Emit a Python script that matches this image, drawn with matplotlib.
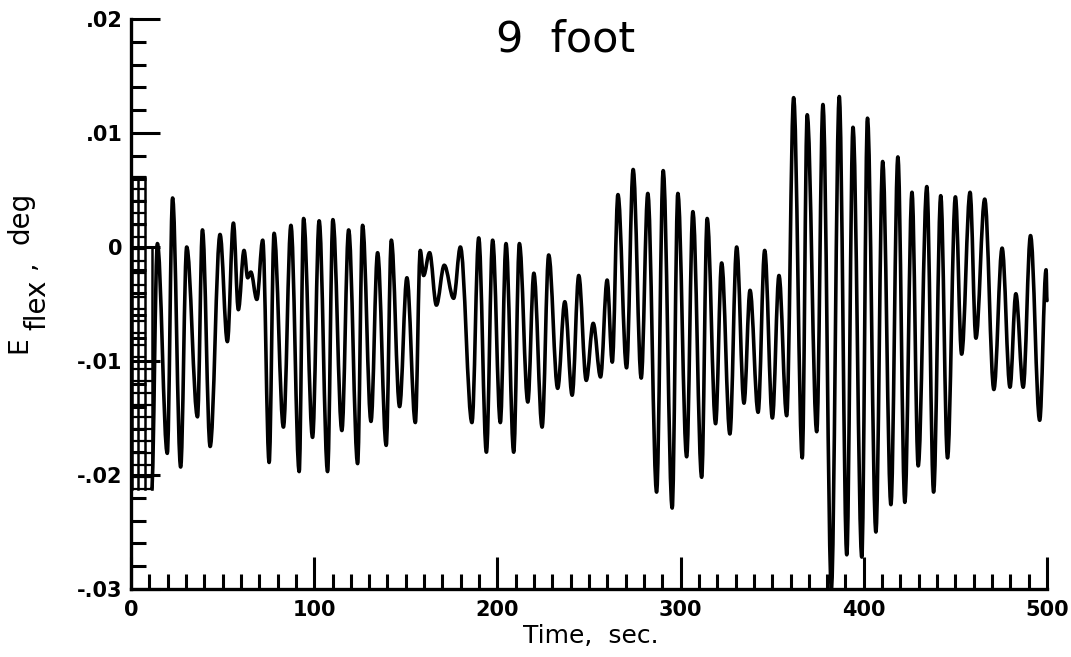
import matplotlib
matplotlib.use("Agg")
import matplotlib.pyplot as plt
from matplotlib.path import Path
from matplotlib.patches import PathPatch
from matplotlib.ticker import MultipleLocator, FixedLocator, FixedFormatter

# ---- data (time in s, E_flex in deg): successive extrema ----
time_s = [11.3, 14.4, 19.8, 22.7, 27.1, 30.4, 36.3, 39.0, 43.2, 48.6,
          52.6, 55.9, 58.6, 61.7, 63.7, 65.4, 68.7, 71.9, 75.4, 78.1,
          83.2, 87.3, 91.8, 94.2, 99.1, 102.7, 107.3, 110.2, 115.1, 118.8,
          123.7, 126.4, 131.0, 134.6, 139.3, 142.1, 146.6, 150.6, 155.2, 157.9,
          159.7, 163.0, 166.7, 171.0, 176.1, 179.8, 186.1, 189.8, 194.0, 197.4,
          201.6, 204.7, 208.9, 212.0, 216.6, 219.9, 224.4, 228.0, 232.9, 236.8,
          240.8, 244.4, 248.5, 252.3, 256.3, 259.9, 262.7, 265.8, 270.5, 274.1,
          278.5, 282.1, 286.9, 290.5, 295.4, 298.5, 303.3, 306.7, 311.5, 314.5,
          319.1, 322.4, 326.9, 330.6, 334.6, 337.9, 342.3, 345.9, 350.1, 353.7,
          357.9, 361.7, 366.4, 369.1, 374.3, 377.7, 382.3, 386.6, 390.7, 394.1,
          398.9, 402.0, 406.6, 410.3, 414.8, 418.6, 422.4, 426.3, 429.7, 434.4,
          438.1, 442.0, 445.7, 450.0, 453.4, 458.0, 461.2, 466.0, 471.0, 475.5,
          479.8, 483.0, 487.0, 491.0, 496.0, 499.5, 500.0]
e_flex = [-0.0212, 0.0003, -0.0181, 0.0043, -0.0193, 0.0000, -0.0149, 0.0015, -0.0175, 0.0011,
          -0.0083, 0.0021, -0.0055, -0.0003, -0.0027, -0.0022, -0.0046, 0.0006, -0.0189, 0.0012,
          -0.0158, 0.0019, -0.0197, 0.0025, -0.0167, 0.0023, -0.0197, 0.0024, -0.0161, 0.0015,
          -0.0190, 0.0019, -0.0153, -0.0005, -0.0174, 0.0006, -0.0140, -0.0027, -0.0154, -0.0003,
          -0.0025, -0.0005, -0.0051, -0.0016, -0.0045, 0.0000, -0.0154, 0.0008, -0.0180, 0.0006,
          -0.0154, 0.0003, -0.0180, 0.0003, -0.0136, -0.0023, -0.0158, -0.0007, -0.0124, -0.0048,
          -0.0130, -0.0025, -0.0117, -0.0067, -0.0114, -0.0029, -0.0101, 0.0046, -0.0106, 0.0068,
          -0.0115, 0.0047, -0.0215, 0.0067, -0.0229, 0.0047, -0.0184, 0.0031, -0.0202, 0.0025,
          -0.0155, -0.0014, -0.0164, 0.0000, -0.0137, -0.0038, -0.0145, -0.0003, -0.0150, -0.0025,
          -0.0148, 0.0131, -0.0185, 0.0116, -0.0162, 0.0125, -0.0300, 0.0132, -0.0270, 0.0105,
          -0.0272, 0.0113, -0.0250, 0.0075, -0.0226, 0.0079, -0.0224, 0.0048, -0.0192, 0.0053,
          -0.0215, 0.0045, -0.0185, 0.0044, -0.0094, 0.0048, -0.0080, 0.0042, -0.0125, -0.0001,
          -0.0123, -0.0041, -0.0123, 0.0010, -0.0152, -0.0020, -0.0047]

# plotter start-up "ladder" trace near t = 0
ladder_cols = [0.4, 4.0, 7.7]
ladder_top, ladder_bottom, ladder_step = 0.0061, -0.0212, 0.00105
ladder_col2 = [7.7, 11.3]
ladder_col2_top = -0.0105
ladder_right_top = 0.0

x_major = [0, 100, 200, 300, 400, 500]
y_major = [-0.03, -0.02, -0.01, 0.0, 0.01, 0.02]
y_labels = ["-.03", "-.02", "-.01", "0", ".01", ".02"]

W, H = 1071, 657
fig = plt.figure(figsize=(W / 100, H / 100), dpi=100)
ax = fig.add_axes([131 / W, 1 - 589 / H, (1047 - 131) / W, (589 - 19) / H])

# smooth trace: cubic Bezier segments with flat tangents at each extremum
k = 0.36
verts = [(time_s[0], e_flex[0])]
codes = [Path.MOVETO]
for i in range(1, len(time_s)):
    t0, v0 = time_s[i - 1], e_flex[i - 1]
    t1, v1 = time_s[i], e_flex[i]
    dt = t1 - t0
    verts += [(t0 + k * dt, v0), (t1 - k * dt, v1), (t1, v1)]
    codes += [Path.CURVE4] * 3
trace = PathPatch(Path(verts, codes), facecolor="none", edgecolor="black",
                  lw=2.6, joinstyle="round", capstyle="round", clip_on=False)
ax.add_patch(trace)

# ladder artifact
for c in ladder_cols:
    ax.plot([c, c], [ladder_top, ladder_bottom], color="black", lw=1.8, clip_on=False)
ax.plot([ladder_col2[1]] * 2, [ladder_right_top, ladder_bottom], color="black", lw=1.8)
lev = ladder_top
while lev >= ladder_bottom - 1e-9:
    ax.plot([ladder_cols[0], ladder_cols[-1]], [lev, lev], color="black", lw=1.6)
    if lev <= ladder_col2_top:
        ax.plot(ladder_col2, [lev, lev], color="black", lw=1.6)
    lev -= ladder_step

ax.set_xlim(0, 500)
ax.set_ylim(-0.03, 0.02)

for s in ["top", "right"]:
    ax.spines[s].set_visible(False)
for s in ["left", "bottom"]:
    ax.spines[s].set_linewidth(2.4)

ax.xaxis.set_major_locator(FixedLocator(x_major))
ax.xaxis.set_minor_locator(MultipleLocator(10))
ax.yaxis.set_major_locator(FixedLocator(y_major))
ax.yaxis.set_major_formatter(FixedFormatter(y_labels))
ax.yaxis.set_minor_locator(MultipleLocator(0.002))

ax.tick_params(axis="both", which="both", direction="in", width=2.2, color="black")
ax.tick_params(axis="x", which="major", length=23, pad=8, labelsize=15)
ax.tick_params(axis="x", which="minor", length=11)
ax.tick_params(axis="y", which="major", length=21, pad=6, labelsize=15)
ax.tick_params(axis="y", which="minor", length=11)
for lab in ax.get_xticklabels() + ax.get_yticklabels():
    lab.set_fontweight("bold")

fig.text(566 / W, 1 - 39 / H, "9  foot", fontsize=31, ha="center", va="center")
fig.text(591 / W, 1 - 636 / H, "Time,  sec.", fontsize=18, ha="center", va="center")

# y label: "E" with a fully lowered subscript "flex", then ", deg"
ylab_kw = dict(rotation=90, ha="center", va="center", color="black")
fig.text(19 / W, 1 - 345 / H, "E", fontsize=19, **ylab_kw)
fig.text(37 / W, 1 - 305 / H, "flex", fontsize=20, **ylab_kw)
fig.text(27 / W, 1 - 265 / H, ",", fontsize=19, **ylab_kw)
fig.text(20 / W, 1 - 218 / H, "deg", fontsize=20, **ylab_kw)

fig.savefig("out.png", dpi=100, facecolor="white")
